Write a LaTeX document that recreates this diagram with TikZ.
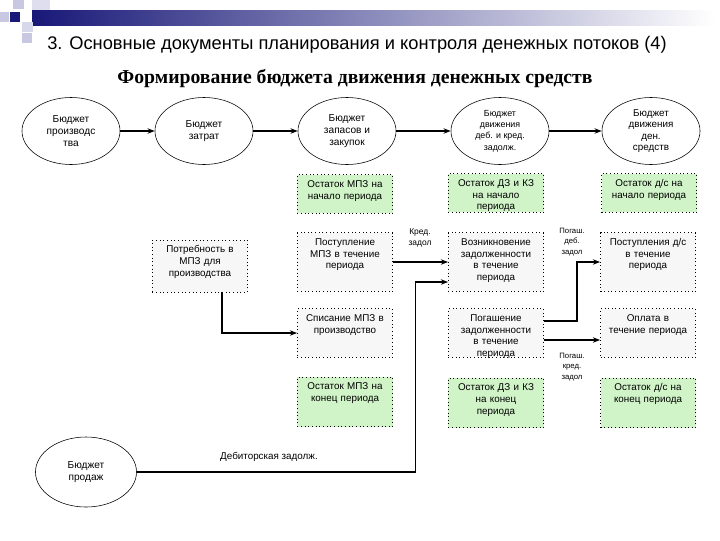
\documentclass[tikz,border=0pt]{standalone}
\usepackage{fontspec}
\setmainfont{Liberation Sans}
\newfontfamily\headserif{Liberation Serif}
\usepackage{tikz}
\usetikzlibrary{shapes.geometric, arrows.meta, positioning, calc}
\definecolor{ostgreen}{RGB}{208,244,200}
\definecolor{boxgray}{RGB}{247,247,247}
\definecolor{slidenavy}{RGB}{24,24,120}
\definecolor{slidelav}{RGB}{200,200,226}

\begin{document}
\begin{tikzpicture}[
    x=0.025cm, y=-0.025cm,
    budget/.style={ellipse, draw, thin, fill=white, inner sep=0pt, minimum width=2.45cm, minimum height=1.675cm, align=center, font=\fontsize{7.2}{8.6}\selectfont},
    box/.style={rectangle, draw, dotted, line width=0.6pt, fill=boxgray, minimum width=2.375cm, inner xsep=1pt, inner ysep=2pt, text width=2.2cm, align=center, text height=7pt, text depth=#1, font=\fontsize{7}{8.4}\selectfont},
    box/.default=16.6pt,
    ost/.style={box=#1, fill=ostgreen},
    ost/.default=16.6pt,
    arr/.style={-{Stealth[length=1.8mm]}, line width=0.8pt},
    lbl/.style={align=center, font=\fontsize{5.5}{7.5}\selectfont}
]
\useasboundingbox (0,0) rectangle (720,540);
\fill[white] (0,0) rectangle (720,540);

% slide header
\shade[left color=slidenavy, right color=white] (32,10) rectangle (715,25);
\fill[slidelav!60] (32,0) rectangle (50,10);
\fill[slidelav] (13,0) rectangle (24,9);
\fill[slidelav] (0,12) rectangle (9,22);
\fill[slidenavy] (10,12) rectangle (20,22);
\fill[slidelav!70] (22,22) rectangle (33,32);
\fill[slidelav] (22,33) rectangle (32,43);

\node[font=\fontsize{13}{15}\selectfont] (title) at (357,45) {3. Основные документы планирования и контроля денежных потоков (4)};
\node[font=\headserif\bfseries\fontsize{14}{16}\selectfont] (subtitle) at (355,79) {Формирование бюджета движения денежных средств};

\node[budget] (eProd) at (71,131) {Бюджет\\производс\\тва};
\node[budget] (eZatr) at (204,131) {Бюджет\\затрат};
\node[budget] (eZap) at (347,131) {Бюджет\\запасов и\\закупок};
\node[budget, font=\fontsize{6.3}{8}\selectfont] (eDeb) at (500,131) {Бюджет\\движения\\деб. и кред.\\задолж.};
\node[budget, font=\fontsize{7}{8.2}\selectfont] (eDen) at (651,131) {Бюджет\\движения\\ден.\\средств};
\node[budget, minimum width=2.525cm, minimum height=1.75cm] (eSales) at (86,472) {Бюджет\\продаж};

\node[ost] (ostMpzN) at (345,194) {Остаток МПЗ на\\начало периода};
\node[ost] (ostDzN) at (496,193) {Остаток ДЗ и КЗ\\на начало\\периода};
\node[ost] (ostDsN) at (649,193) {Остаток д/с на\\начало периода};

\node[box=25.9pt] (potr) at (200,266) {Потребность в\\МПЗ для\\производства};
\node[box=30.8pt] (postMpz) at (345,262) {Поступление\\МПЗ в течение\\периода};
\node[box=30.8pt] (vozn) at (496,262) {Возникновение\\задолженности\\в течение\\периода};
\node[box=30.8pt] (postDs) at (648,262) {Поступления д/с\\в течение\\периода};

\node[box=23.7pt] (spis) at (345,333) {Списание МПЗ в\\производство};
\node[box=23.7pt] (pogash) at (496,333) {Погашение\\задолженности\\в течение\\периода};
\node[box=23.7pt] (oplata) at (648,333) {Оплата в\\течение периода};

\node[ost=24.4pt] (ostMpzK) at (345,402) {Остаток МПЗ на\\конец периода};
\node[ost=24.4pt] (ostDzK) at (496,403) {Остаток ДЗ и КЗ\\на конец\\периода};
\node[ost=24.4pt] (ostDsK) at (648,403) {Остаток д/с на\\конец периода};

\node[lbl, font=\fontsize{6}{7.5}\selectfont] (lblKred) at (420,238) {Кред.\\задол};
\node[lbl] (lblPogDeb) at (572,242) {Погаш.\\деб.\\задол};
\node[lbl] (lblPogKred) at (572,367) {Погаш.\\кред.\\задол};
\node[font=\fontsize{7}{8}\selectfont] (lblDebitor) at (269,457) {Дебиторская задолж.};

\draw[arr] (eProd) -- (eZatr);
\draw[arr] (eZatr) -- (eZap);
\draw[arr] (eZap) -- (eDeb);
\draw[arr] (eDeb) -- (eDen);
\draw[arr] (postMpz) -- (vozn);
\draw[arr] (eSales.east) -| ($(vozn.west)+(-33,20)$) -- ($(vozn.west)+(0,20)$);
\draw[arr] ($(potr.south)+(22,0)$) |- (spis.west);
\draw[arr] ($(pogash.east)+(0,-12)$) -- ++(33,0) |- (postDs.west);
\draw[arr] ($(pogash.east)+(0,7)$) -- ($(oplata.west)+(0,7)$);
\end{tikzpicture}
\end{document}
